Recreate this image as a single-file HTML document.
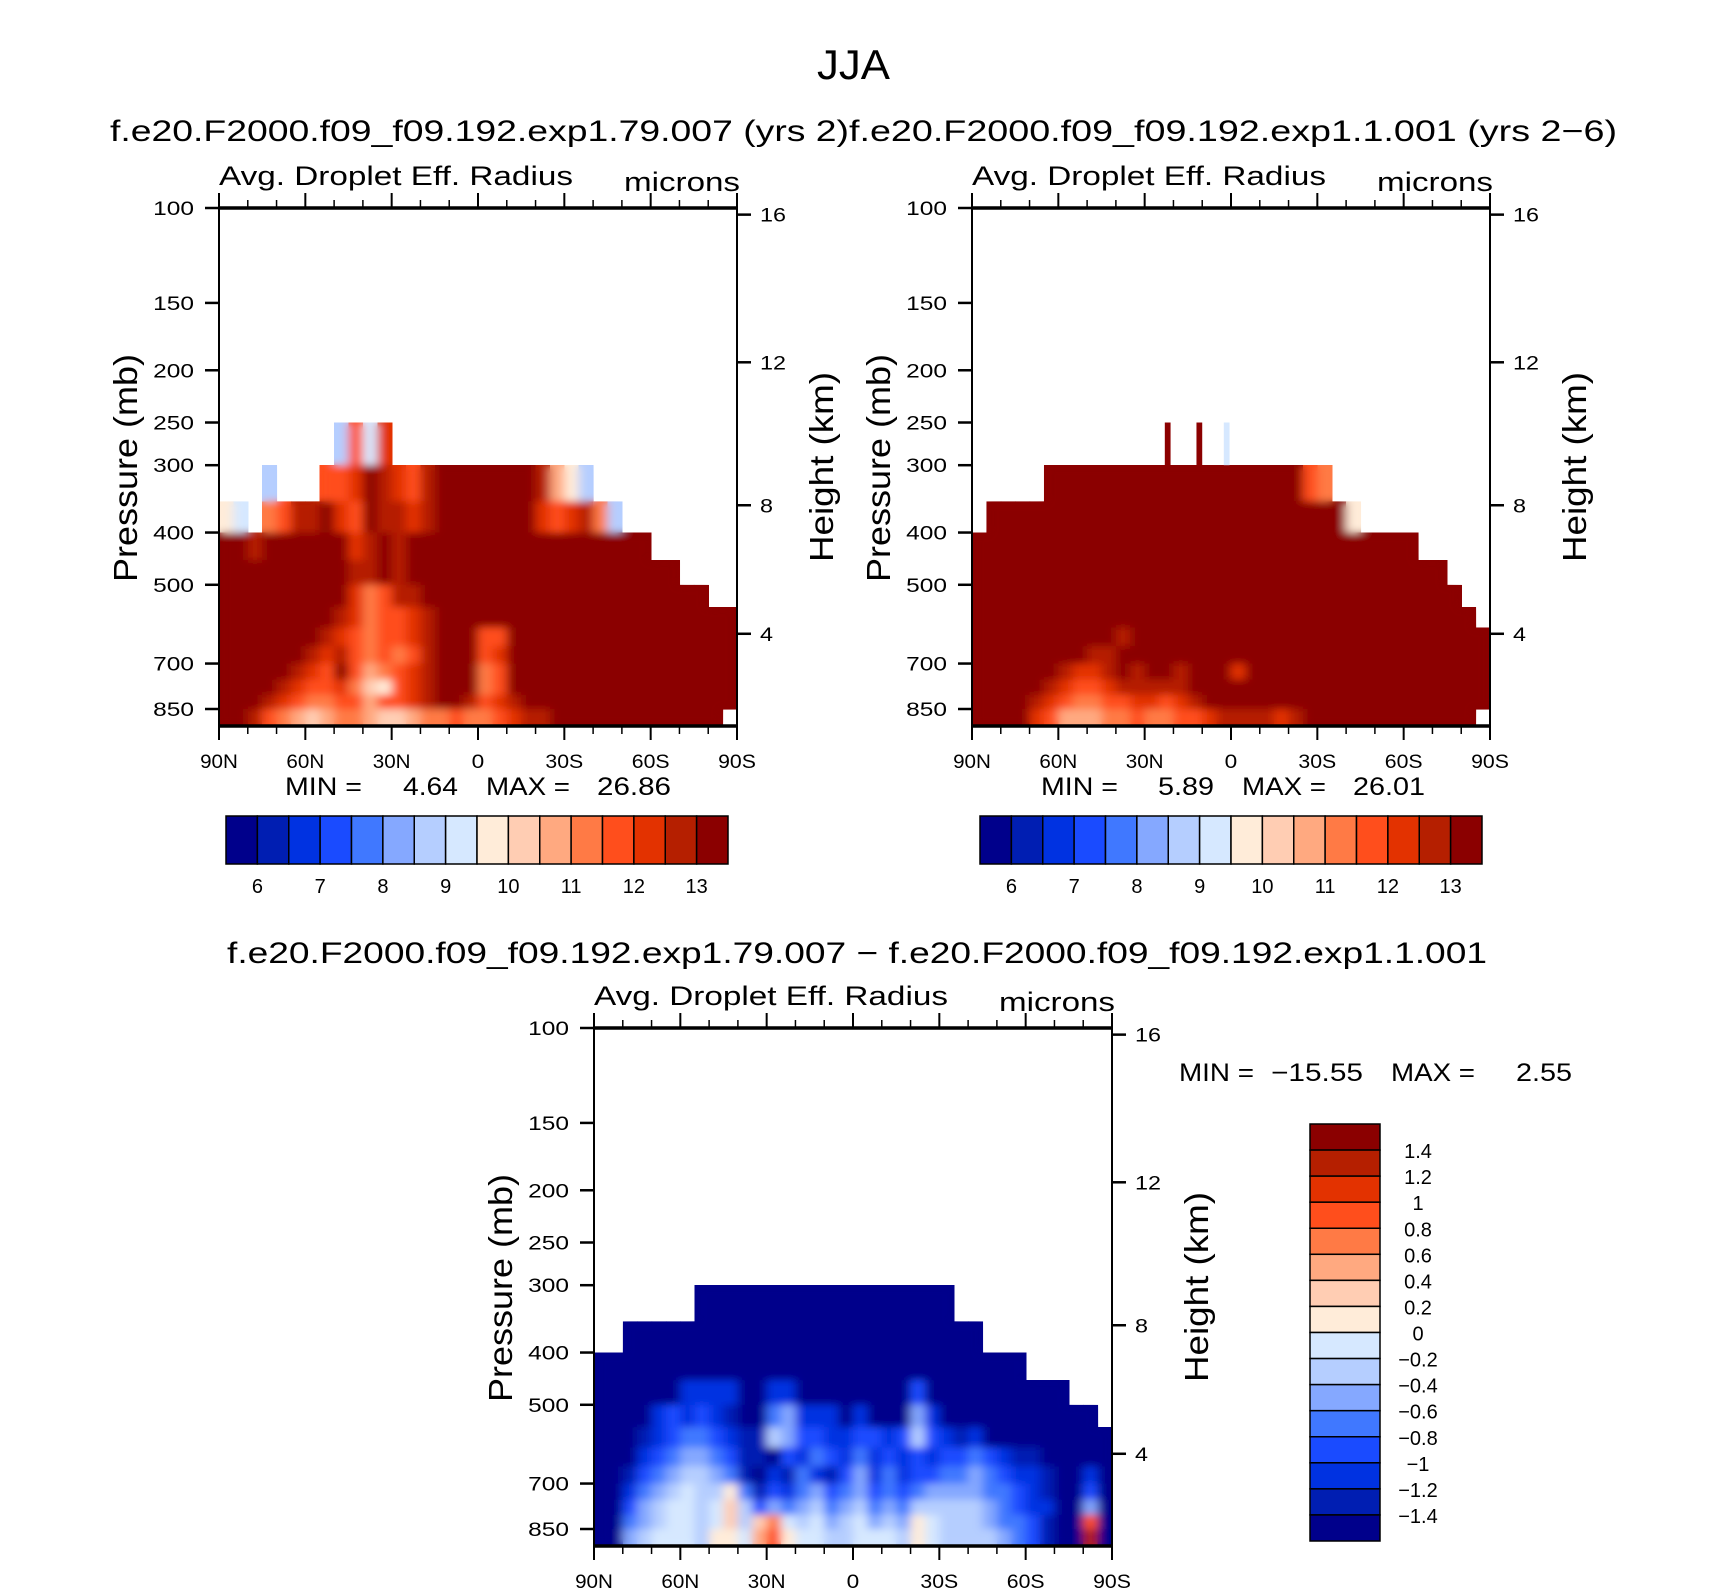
<!DOCTYPE html>
<html><head><meta charset="utf-8"><style>
html,body{margin:0;padding:0;background:#fff;}
svg text{font-family:"Liberation Sans",sans-serif;fill:#000;}
</style></head><body>
<svg id="fig" xmlns="http://www.w3.org/2000/svg" width="1710" height="1590" viewBox="0 0 1710 1590">
<defs id="defs"><filter id="soft" x="-5%" y="-5%" width="110%" height="110%"><feGaussianBlur stdDeviation="5 4"/></filter></defs>
<rect width="1710" height="1590" fill="#fff"/>
<text x="817" y="79" font-size="42" textLength="73" lengthAdjust="spacingAndGlyphs">JJA</text>
<text x="110" y="141" font-size="30" textLength="739" lengthAdjust="spacingAndGlyphs">f.e20.F2000.f09_f09.192.exp1.79.007 (yrs 2)</text>
<text x="849" y="141" font-size="30" textLength="768" lengthAdjust="spacingAndGlyphs">f.e20.F2000.f09_f09.192.exp1.1.001 (yrs 2−6)</text>
<text x="227" y="963" font-size="30" textLength="1260" lengthAdjust="spacingAndGlyphs">f.e20.F2000.f09_f09.192.exp1.79.007 − f.e20.F2000.f09_f09.192.exp1.1.001</text>
<g id="panels"></g>
</svg>
<script>
const pal = ['#00008b','#001eb2','#0032e1','#1a4bff','#4078ff','#85a8ff','#b5ceff','#d6e8ff','#ffecd9','#ffcdb3','#ffa980','#ff7a45','#ff4e1c','#e33200','#b51f00','#8b0000'];
const levelEdges = [250,300,350,400,450,500,550,600,650,700,750,800,850,914];
const pTicks = [100,150,200,250,300,400,500,700,850];
const hTicks = [4,8,12,16];
const latTickLabels = ['90N','60N','30N','0','30S','60S','90S'];
const latTickValues = [90,60,30,0,-30,-60,-90];
const cb1Labels = ['6','7','8','9','10','11','12','13'];
const cb3Labels = ['1.4','1.2','1','0.8','0.6','0.4','0.2','0','−0.2','−0.4','−0.6','−0.8','−1','−1.2','−1.4'];
const p1Rows = [
"........6c7d........................",
"...6...ccdfedcefffffffea86..........",
"87.bceefdcfeedefffffffdcdeb6........",
"ffeffffffdefefffffffffffffffff......",
"fffffffffeefefffffffffffffffffff....",
"fffffffffdbceeffffffffffffffffffff..",
"ffffffffedbccdefffffffffffffffffffff.",
"fffffffedcbccdefffccffffffffffffffff",
"ffffffedecbcbcefffcdffffffffffffffff",
"fffffedcfcabcdefffbcffffffffffffffff",
"ffffedccdb98cdefffbcffffffffffffffff",
"fffedcbbccaccdeffecdefffffffffffffff",
"ffecba9abba99abbcbbcdeeffffffffffff."
];
const p2Rows = [
"....................................",
".....ffffffffffffffffffcb...........",
".fffffffffffffffffffffffff8.........",
"fffffffffffffffffffffffffffffff.....",
"fffffffffffffffffffffffffffffffff...",
"ffffffffffffffffffffffffffffffffff..",
"fffffffffffffffffffffffffffffffffff.",
"ffffffffffefffffffffffffffffffffffff",
"ffffffffeeffffffffffffffffffffffffff",
"ffffffeddefeffefffdfffffffffffffffff",
"fffffedccdeeeeefffffffffffffffffffff",
"ffffedcbbccddcdeffffffffffffffffffff",
"ffffdcaaabbcbbccdeeeedeffffffffffff."
];
const p2SpikeLat = [22,11,1.5];
const p2SpikeTop = [250,250,250];
const p2SpikeVal = [15,15,7];
const p3Rows = [
"....................................",
".......000000000000000000...........",
"..0000000000000000000000000.........",
"000000000000000000000000000000......",
"000000222200220000000030000000000....",
"00002323210045222020005200000000000...",
"000123443211653322332363212000000000.",
"000234554311032432423232334321100000",
"0013456654102142135242334454322100 20",
"002456766841324534534345555443210030",
"003567767963545645645466666543220050",
"004567767969b76756756587666544310 0c0",
"00567776887ac8776677768766665431 00e0"
];
const minmax1 = ['4.64','26.86'];
const minmax2 = ['5.89','26.01'];
const minmax3 = ['−15.55','2.55'];

const NS='http://www.w3.org/2000/svg';
const root=document.getElementById('panels');
const defs=document.getElementById('defs');
function mk(tag, attrs, parent){const e=document.createElementNS(NS,tag);for(const k in attrs)e.setAttribute(k,attrs[k]);(parent||root).appendChild(e);return e;}
function txt(s, attrs, parent){const e=mk('text',attrs,parent);e.textContent=s;return e;}
function hToP(h){const m=h*1000; if(m<=11000) return 1013.25*Math.pow(1-2.25577e-5*m,5.25588); return 226.32*Math.exp(-(m-11000)/6341.6);}
function clean(r){return r.replace(/ /g,'');}

function drawPanel(idx, L, T, rows, spikes){
  const W=518,H=518,pBot=914;
  const g=mk('g',{});
  
  
  const xS=lat=>L+(90-lat)/180*W;
  const yS=p=>T+H*Math.log(p/100)/Math.log(pBot/100);
  const clip=mk('clipPath',{id:'clip'+idx},defs);
  const base=mk('g',{'shape-rendering':'crispEdges'},g);
  
  
  const softWrap=mk('g',{'clip-path':'url(#clip'+idx+')'},g);
  const soft=mk('g',{filter:'url(#soft)'},softWrap);
  rows.forEach((raw,ri)=>{
    const r=clean(raw).padEnd(36,'.').slice(0,36);
    const n=r.length;
    for(let ci=0;ci<n;ci++){
      const ch=r[ci]; if(ch==='.') continue;
      const v=parseInt(ch,16); if(isNaN(v)) continue;
      const lat0=90-ci*180/n, lat1=90-(ci+1)*180/n;
      const x0=xS(lat0), x1=xS(lat1), y0=yS(levelEdges[ri]), y1=yS(levelEdges[ri+1]);
      const a={x:x0,y:y0,width:x1-x0+0.6,height:y1-y0+0.6,fill:pal[v]};
      const c=mk('rect',a,base);
      
      
      mk('rect',a,soft);
      mk('rect',{x:x0,y:y0,width:x1-x0+0.6,height:y1-y0+0.6},clip);
    }
  });
  if(spikes){
    spikes.lat.forEach((lt,i)=>{
      const s=mk('rect',{x:xS(lt+1),y:yS(spikes.top[i]),width:xS(lt-1)-xS(lt+1),height:yS(300)-yS(spikes.top[i]),fill:pal[spikes.val[i]]},g);
      
      
    });
  }
  const ax=mk('g',{stroke:'#000',fill:'none'},g);
  
  
  mk('line',{x1:L,y1:T,x2:L,y2:T+H,'stroke-width':2},ax);
  mk('line',{x1:L+W,y1:T,x2:L+W,y2:T+H,'stroke-width':2},ax);
  mk('line',{x1:L-1,y1:T,x2:L+W+1,y2:T,'stroke-width':3.5},ax);
  mk('line',{x1:L-1,y1:T+H,x2:L+W+1,y2:T+H,'stroke-width':3.5},ax);
  for(let lat=90;lat>=-90;lat-=10){
    const maj=(lat%30===0), x=xS(lat);
    mk('line',{x1:x,y1:T,x2:x,y2:T-(maj?15:8),'stroke-width':maj?2:1.5},ax);
    mk('line',{x1:x,y1:T+H,x2:x,y2:T+H+(maj?14:8),'stroke-width':maj?2:1.5},ax);
  }
  latTickValues.forEach((lat,i)=>{
    const t=txt(latTickLabels[i],{x:xS(lat),y:T+H+42,'font-size':19,'text-anchor':'middle',textLength:latTickLabels[i].length*12.6,lengthAdjust:'spacingAndGlyphs'},g);
    
    
  });
  pTicks.forEach(p=>{
    const y=yS(p);
    mk('line',{x1:L,y1:y,x2:L-14,y2:y,'stroke-width':2.5},ax);
    const s=String(p);
    const t=txt(s,{x:L-25,y:y+7,'font-size':19,'text-anchor':'end',textLength:s.length*13.6,lengthAdjust:'spacingAndGlyphs'},g);
    
    
  });
  hTicks.forEach(h=>{
    const y=yS(hToP(h));
    mk('line',{x1:L+W,y1:y,x2:L+W+14,y2:y,'stroke-width':2.5},ax);
    const s=String(h);
    const t=txt(s,{x:L+W+23,y:y+7,'font-size':19,textLength:s.length*13,lengthAdjust:'spacingAndGlyphs'},g);
    
    
  });
  let t=txt('Avg. Droplet Eff. Radius',{x:L,y:T-23,'font-size':27,textLength:354,lengthAdjust:'spacingAndGlyphs'},g);
  
  
  t=txt('microns',{x:L+405,y:T-17,'font-size':27,textLength:116,lengthAdjust:'spacingAndGlyphs'},g);
  
  
  t=txt('Pressure  (mb)',{x:0,y:0,'font-size':33,'text-anchor':'middle',textLength:228,lengthAdjust:'spacingAndGlyphs',transform:`translate(${L-82},${T+260}) rotate(-90)`},g);
  
  
  t=txt('Height  (km)',{x:0,y:0,'font-size':33,'text-anchor':'middle',textLength:190,lengthAdjust:'spacingAndGlyphs',transform:`translate(${L+W+96},${T+259}) rotate(-90)`},g);
  
  
}

drawPanel(1,219,208,p1Rows,null);
drawPanel(2,972,208,p2Rows,{lat:p2SpikeLat,top:p2SpikeTop,val:p2SpikeVal});
drawPanel(3,594,1028,p3Rows,null);

function minmax(vals, xs, y, idx){
  const parts=['MIN =',vals[0],'MAX =',vals[1]];
  parts.forEach((s,i)=>{
    const t=txt(s,{x:xs[i][0],y:y,'font-size':25,textLength:xs[i][1]-xs[i][0],lengthAdjust:'spacingAndGlyphs'});
    
    
  });
}
minmax(minmax1,[[285,362],[403,458],[486,570],[597,671]],795,1);
minmax(minmax2,[[1041,1118],[1158,1214],[1242,1326],[1353,1425]],795,2);
minmax(minmax3,[[1179,1254],[1271,1363],[1391,1475],[1516,1572]],1081,3);

function hbar(L,T,W,H,idx){
  const g=mk('g',{});
  
  
  const bw=W/pal.length;
  pal.forEach((c,i)=>{
    const r=mk('rect',{x:L+i*bw,y:T,width:bw,height:H,fill:c,stroke:'#000','stroke-width':1.5},g);
    
    
  });
  cb1Labels.forEach((s,i)=>{
    const t=txt(s,{x:L+(2*i+1)*bw,y:T+H+29,'font-size':20,'text-anchor':'middle'},g);
    
    
  });
}
hbar(226,816,502,48,1);
hbar(980,816,502,48,2);

(function(){
  const L=1310,T=1124,W=70,H=417;
  const g=mk('g',{});
  
  
  const bh=H/pal.length;
  for(let i=0;i<pal.length;i++){
    const r=mk('rect',{x:L,y:T+i*bh,width:W,height:bh,fill:pal[pal.length-1-i],stroke:'#000','stroke-width':1.5},g);
    
    
  }
  cb3Labels.forEach((s,i)=>{
    const t=txt(s,{x:1418,y:T+(i+1)*bh+8,'font-size':20,'text-anchor':'middle'},g);
    
    
  });
})();
</script>
</body></html>
